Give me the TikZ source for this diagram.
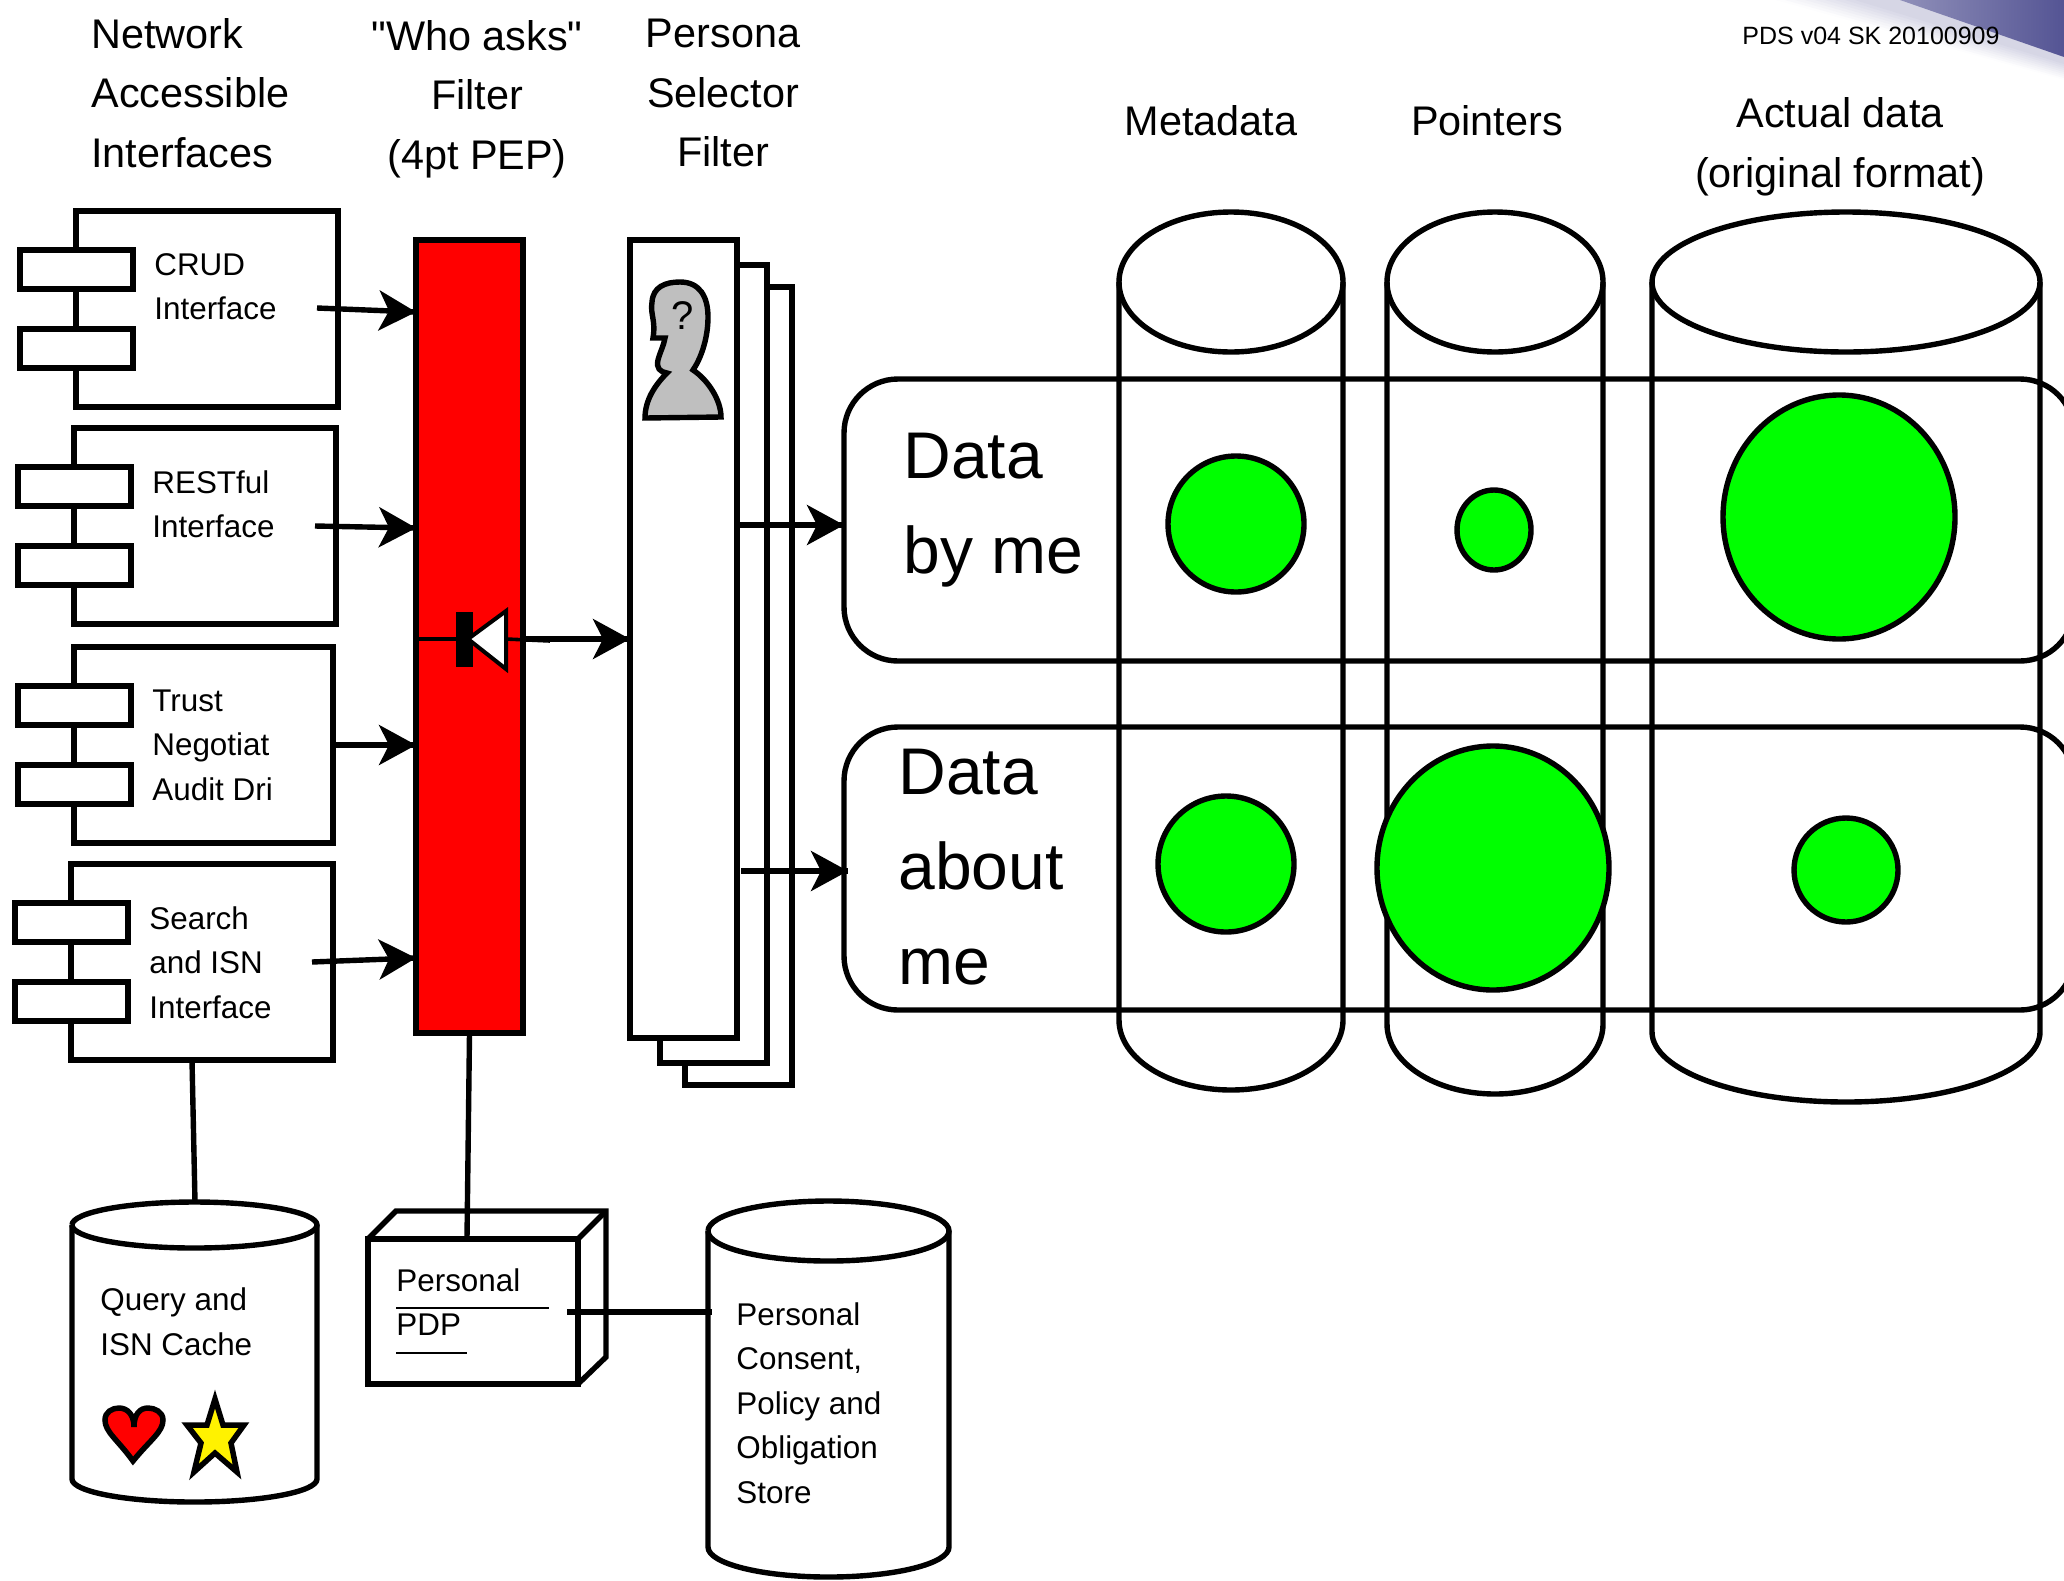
\documentclass[tikz,border=0pt]{standalone}
\usepackage{fontspec}
\setmainfont{Liberation Sans}[Ligatures=TeXOff]
\usetikzlibrary{arrows.meta}
\usetikzlibrary{decorations.markings}
\tikzset{->/.style = {decoration={markings,
                                  mark=at position 1 with {\arrow{Stealth[length=18.5pt, width=20pt, inset=5pt]}}},
                      postaction={decorate}}}
\tikzset{thick line/.style = {line width=2.7pt}}
\tikzset{ifacebox/.style = {draw, thick line, anchor=north west, inner sep=0, outer sep=0, minimum height=98pt}}
\tikzset{tabbox/.style = {draw, thick line, fill=white, anchor=north west, inner sep=0, outer sep=0, minimum width=56.5pt, minimum height=19.5pt}}
\tikzset{small text/.style = {anchor=west, align=left, inner sep=0, font=\fontsize{15.7}{22.3}\selectfont}}
\tikzset{head text/.style = {align=center, inner sep=0, font=\fontsize{20.7}{29.8}\selectfont}}
\tikzset{big text/.style = {anchor=west, align=left, inner sep=0, font=\fontsize{33}{47.4}\selectfont}}
\tikzset{filter bar/.style = {draw, thick line, anchor=north west, inner sep=0, outer sep=0, minimum width=53.5pt}}
\tikzset{data row/.style = {draw, thick line, anchor=north west, inner sep=0, outer sep=0, rounded corners=27pt, minimum width=615pt}}
\tikzset{blob/.style = {draw, thick line, fill=mgreen}}
\definecolor{mgreen}{rgb}{0, 1, 0}
\definecolor{mred}{rgb}{1, 0, 0}
\definecolor{mgrey}{rgb}{0.75, 0.75, 0.75}
\definecolor{mlilac}{rgb}{0.84, 0.84, 0.90}
\definecolor{mviolet}{rgb}{0.33, 0.33, 0.58}

\begin{document}
\begin{tikzpicture}[x=0.5pt, y=-0.5pt]
      \path [use as bounding box, clip] (0, 0) rectangle (2064, 1580);

      % corner of the slide background
      \foreach \t in {0, 1, ..., 8} {
        \fill [mlilac!\the\numexpr 12*\t+4\relax!white] ({1775+10*\t}, 0) -- (2064, {80-2*\t}) -- (2064, 0) -- cycle;
      }
      \shade [left color=mviolet!65, right color=mviolet] (1900, 0) -- (2064, 57) -- (2064, 0) -- cycle;

      \node [font=\fontsize{12.5}{15}\selectfont, inner sep=0] (version) at (1871, 36) {PDS v04 SK 20100909};

      \node [head text, anchor=west, align=left] (headiface) at (91, 93) {Network\\Accessible\\Interfaces};
      \node [head text] (headpep) at (477, 99) {"Who asks"\\Filter\\(4pt PEP)};
      \node [head text] (headpersona) at (723, 93) {Persona\\Selector\\Filter};
      \node [head text] (headmeta) at (1211, 121) {Metadata};
      \node [head text] (headptr) at (1487, 121) {Pointers};
      \node [head text] (headactual) at (1840, 147) {Actual data\\(original format)};

      \foreach \name/\x/\y/\boxw/\txt in {crud/76/211/131pt/{CRUD\\Interface},
                                          rest/74/428/131pt/{RESTful\\Interface},
                                          trust/74/647/129.5pt/{Trust\\Negotiat\\Audit Dri},
                                          search/71/864/131pt/{Search\\and ISN\\Interface}} {
        \begin{scope}[shift={(\x, \y)}]
          \node [ifacebox, minimum width=\boxw] (\name) at (0, 0) {};
          \node [tabbox] (\name tabA) at (-56, 39) {};
          \node [tabbox] (\name tabB) at (-56, 118) {};
          \node [small text, anchor=north west] (\name text) at (78, 42) {\txt};
        \end{scope}
      }

      \node [filter bar, fill=mred, minimum height=396.5pt] (pep) at (416, 240) {};

      \node [filter bar, fill=white, minimum height=399pt] (persona back) at (685, 287) {};
      \node [filter bar, fill=white, minimum height=399pt] (persona mid) at (660, 265) {};
      \node [filter bar, fill=white, minimum height=399pt] (persona) at (630, 240) {};

      % person with the question mark
      \draw [thick line, fill=mgrey] (653, 338) .. controls (656, 320) and (650, 315) .. (652, 302)
        .. controls (653, 287) and (665, 282) .. (680, 282)
        .. controls (700, 282) and (708, 297) .. (708, 317)
        .. controls (708, 340) and (700, 360) .. (693, 370)
        .. controls (708, 380) and (721, 400) .. (721, 417) -- (645, 418)
        .. controls (645, 400) and (655, 385) .. (667, 373)
        .. controls (660, 372) and (656, 368) .. (658, 360)
        .. controls (660, 352) and (664, 345) .. (665, 338) -- cycle;
      \node [inner sep=0, font=\fontsize{20}{24}\selectfont] (asks) at (683, 316) {?};

      % the cylinders
      \foreach \name/\xl/\xr/\yt/\yb/\ry in {meta/1119/1343/282/1020/70,
                                             ptr/1387/1603/282/1024/70,
                                             actual/1652/2040/282/1032/70,
                                             query/72/317/1225/1479/23,
                                             store/708/949/1231/1547/30} {
        \draw [thick line] (\xl, \yt) arc [start angle=180, end angle=-180,
                                           x radius={(\xr-\xl)/4*1pt}, y radius={\ry/2*1pt}];
        \draw [thick line] (\xl, \yt) -- (\xl, \yb)
          arc [start angle=180, end angle=360, x radius={(\xr-\xl)/4*1pt}, y radius={\ry/2*1pt}] -- (\xr, \yt);
      }

      \node [data row, minimum height=141pt] (byme) at (844, 379) {};
      \node [data row, minimum height=141.5pt] (aboutme) at (844, 727) {};
      \node [big text] (bymetext) at (903, 510) {Data\\by me};
      \node [big text] (aboutmetext) at (898, 867) {Data\\about\\me};

      \draw [blob] (1236, 524) circle [radius=34pt];
      \draw [blob] (1494, 530) ellipse [x radius=18.5pt, y radius=20pt];
      \draw [blob] (1839, 517) ellipse [x radius=58pt, y radius=61pt];
      \draw [blob] (1226, 864) circle [radius=34pt];
      \draw [blob] (1493, 868) ellipse [x radius=58pt, y radius=61pt];
      \draw [blob] (1846, 870) circle [radius=26pt];

      % arrows into the filter
      \foreach \name/\xa/\ya/\yb in {crud/317/308/312, rest/315/526/528, trust/333/745/745, search/312/962/958} {
        \coordinate (\name out) at (\xa, \ya);
        \coordinate (\name in) at (0, \yb);
        \draw [thick line, ->] (\name out) -- (\name in -| pep.west);
      }

      % the diode
      \coordinate (diodeL) at (418, 639);
      \coordinate (diodeR) at (506, 639);
      \coordinate (diodeend) at (550, 641);
      \draw [line width=1.8pt] (diodeL) -- (diodeR) -- (diodeend);
      \fill (456, 612) rectangle (473, 667);
      \draw [line width=2pt, fill=white] (468, 639) -- (506, 611) -- (506, 669) -- cycle;
      \coordinate (diodeout) at (525, 639);
      \draw [thick line, ->] (diodeout) -- (diodeout -| persona.west);

      \coordinate (bymein) at (844, 525);
      \coordinate (aboutout) at (741, 871);
      \coordinate (aboutin) at (848, 871);
      \draw [thick line, ->] (bymein -| persona.east) -- (bymein);
      \draw [thick line, ->] (aboutout) -- (aboutin);

      % PDP box
      \node [draw, thick line, anchor=north west, inner sep=0, outer sep=0, minimum width=105pt, minimum height=72.5pt] (pdp) at (368, 1239) {};
      \draw [thick line, line join=miter] (pdp.north west) -- (396, 1211) -- (606, 1211) -- (606, 1357) -- (pdp.south east);
      \draw [thick line] (pdp.north east) -- (606, 1211);
      \node [small text] (pdptext) at (396, 1280) {Personal};
      \node [small text] (pdpname) at (396, 1325) {PDP};
      \draw [line width=1.15pt] (pdptext.south west |- 0, 1308) -- (549, 1308);
      \draw [line width=1.15pt] (pdpname.south west |- 0, 1353) -- (467, 1353);

      \node [small text] (querytext) at (100, 1322) {Query and\\ISN Cache};
      \node [small text] (storetext) at (736, 1403) {Personal\\Consent,\\Policy and\\Obligation\\Store};

      % links down to the stores
      \coordinate (searchout) at (192, 1060);
      \coordinate (querytop) at (195, 1202);
      \coordinate (pdptop) at (467, 1238);
      \coordinate (pdpout) at (567, 1312);
      \coordinate (storein) at (712, 1312);
      \draw [thick line] (searchout) -- (querytop);
      \draw [thick line] (pep.south) -- (pdptop);
      \draw [line width=2.7pt] (pdpout) -- (storein);

      \draw [line width=2.75pt, fill=mred] (133, 1461) .. controls (150, 1440) and (163, 1432) .. (163, 1420)
        .. controls (163, 1412) and (155, 1408) .. (148, 1408)
        .. controls (140, 1408) and (134, 1414) .. (134, 1427)
        .. controls (134, 1414) and (127, 1408) .. (119, 1408)
        .. controls (112, 1408) and (105, 1412) .. (105, 1420)
        .. controls (105, 1432) and (118, 1440) .. (133, 1461) -- cycle;
      \draw [line width=2.75pt, fill=yellow, line join=miter] (215, 1399) -- (223, 1425) -- (244, 1425) -- (231, 1443)
        -- (237, 1472) -- (215, 1453) -- (194, 1472) -- (201, 1443) -- (187, 1425) -- (207, 1425) -- cycle;
    \end{tikzpicture}
\end{document}
